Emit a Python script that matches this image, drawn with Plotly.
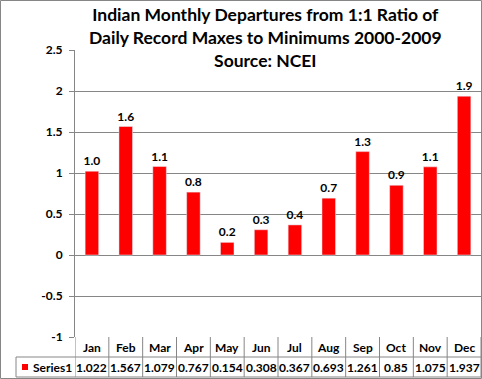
import plotly.graph_objects as go
from decimal import Decimal, ROUND_HALF_UP

months = ["Jan", "Feb", "Mar", "Apr", "May", "Jun", "Jul", "Aug", "Sep", "Oct", "Nov", "Dec"]
values = [1.022, 1.567, 1.079, 0.767, 0.154, 0.308, 0.367, 0.693, 1.261, 0.85, 1.075, 1.937]
table_labels = ["1.022", "1.567", "1.079", "0.767", "0.154", "0.308", "0.367", "0.693", "1.261", "0.85", "1.075", "1.937"]
series_name = "Series1"
y_tick_vals = [-1, -0.5, 0, 0.5, 1, 1.5, 2, 2.5]
y_tick_text = ["-1", "-0.5", "0", "0.5", "1", "1.5", "2", "2.5"]
title_lines = ["Indian Monthly Departures from 1:1 Ratio of",
               "Daily Record Maxes to Minimums 2000-2009",
               "Source: NCEI"]

W, H = 482, 379
L, R, T, B = 75, 1, 50, 42
PW = W - L - R
PH = H - T - B
FONT = "Lato"
GRID = "#868686"

def py(p):  # pixel y -> paper y
    return (H - B - p) / PH

def px(p):  # pixel x -> paper x
    return (p - L) / PW

bar_labels = [str(Decimal(t).quantize(Decimal("0.1"), rounding=ROUND_HALF_UP)) for t in table_labels]

fig = go.Figure()
fig.add_trace(go.Bar(
    x=list(range(len(months))), y=values, marker_color="#FF0000",
    width=0.4, text=bar_labels, textposition="outside",
    textfont=dict(family=FONT, size=12, color="black"), cliponaxis=False,
    constraintext="none",
    texttemplate="<b>%{text}</b>", showlegend=False,
))

shapes = []
annotations = []
row1_top, row_mid, row_bot = 337, 357, 377
n = len(months)
for i in range(n + 1):
    shapes.append(dict(type="line", xref="x", yref="paper", x0=i - 0.5, x1=i - 0.5,
                       y0=py(row1_top), y1=py(row_bot), line=dict(color=GRID, width=1)))
shapes.append(dict(type="line", xref="paper", yref="paper", x0=px(16), x1=1,
                   y0=py(row_mid), y1=py(row_mid), line=dict(color=GRID, width=1)))
shapes.append(dict(type="line", xref="paper", yref="paper", x0=px(16), x1=1,
                   y0=py(row_bot), y1=py(row_bot), line=dict(color=GRID, width=1)))
shapes.append(dict(type="line", xref="paper", yref="paper", x0=px(16), x1=px(16),
                   y0=py(row_mid), y1=py(row_bot), line=dict(color=GRID, width=1)))
shapes.append(dict(type="rect", xref="paper", yref="paper", x0=px(22), x1=px(28),
                   y0=py(370), y1=py(364), fillcolor="#FF0000", line=dict(width=0)))
shapes.append(dict(type="rect", xref="paper", yref="paper", x0=px(0.5), x1=px(W - 0.5),
                   y0=py(H - 0.5), y1=py(0.5), line=dict(color=GRID, width=1)))

for i, (m, t) in enumerate(zip(months, table_labels)):
    annotations.append(dict(x=i, y=py(347), xref="x", yref="paper", text=f"<b>{m}</b>",
                            showarrow=False, yanchor="middle",
                            font=dict(family=FONT, size=12, color="black")))
    annotations.append(dict(x=i, y=py(367), xref="x", yref="paper", text=f"<b>{t}</b>",
                            showarrow=False, yanchor="middle",
                            font=dict(family=FONT, size=12, color="black")))
annotations.append(dict(x=px(31), y=py(367), xref="paper", yref="paper", text=f"<b>{series_name}</b>",
                        showarrow=False, xanchor="left", yanchor="middle",
                        font=dict(family=FONT, size=12, color="black")))
annotations.append(dict(x=px(265), y=py(38), xref="paper", yref="paper",
                        text="<br>".join(f"<b>{l}</b>" for l in title_lines),
                        showarrow=False, align="center", xanchor="center", yanchor="middle",
                        font=dict(family=FONT, size=17.5, color="black")))

fig.update_layout(
    width=W, height=H, margin=dict(l=L, r=R, t=T, b=B, autoexpand=False),
    paper_bgcolor="white", plot_bgcolor="white",
    xaxis=dict(range=[-0.5, n - 0.5], showticklabels=False, showgrid=False, zeroline=False,
               showline=False, ticks=""),
    yaxis=dict(range=[-1, 2.5], tickmode="array", tickvals=y_tick_vals,
               ticktext=[f"<b>{t}</b>" for t in y_tick_text],
               showgrid=True, gridcolor=GRID, gridwidth=1,
               zeroline=True, zerolinecolor=GRID, zerolinewidth=1, automargin=False,
               showline=True, linecolor=GRID, ticks="outside", ticklen=5, tickcolor=GRID,
               tickfont=dict(family=FONT, size=12, color="black"),
               ticklabelstandoff=4),
    shapes=shapes, annotations=annotations,
    font=dict(family=FONT),
)
fig.write_html("out.html", config={"displayModeBar": False},
               post_script="document.body.style.margin='0';")
